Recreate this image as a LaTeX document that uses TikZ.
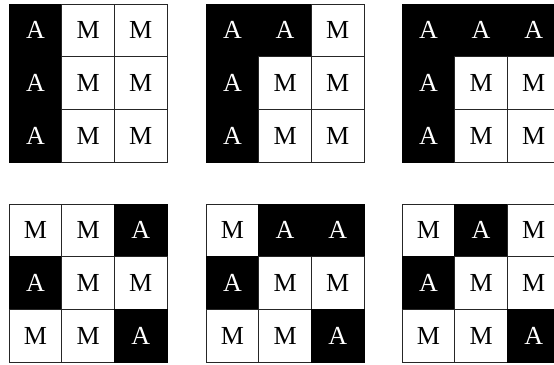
\documentclass[tikz,border=0pt]{standalone}
\usepackage{fontspec}
\setmainfont{Liberation Serif}
\usepackage{tikz}
\usetikzlibrary{positioning}

\begin{document}
\begin{tikzpicture}[
    x=1pt, y=-1pt,
    cell/.style={draw=black!85, line width=1pt, minimum size=52.7pt, inner sep=0pt, font=\fontsize{26}{26}\selectfont},
    mcell/.style={cell, fill=white, text=black},
    acell/.style={cell, draw=black, fill=black, text=white}
]
\useasboundingbox (0,0) rectangle (554,364);

% Pattern 1: left column
\node[acell] (p1-11) at (35.4,30.4) {A};
\node[mcell] (p1-12) at (88.1,30.4) {M};
\node[mcell] (p1-13) at (140.8,30.4) {M};
\node[acell] (p1-21) at (35.4,83.1) {A};
\node[mcell] (p1-22) at (88.1,83.1) {M};
\node[mcell] (p1-23) at (140.8,83.1) {M};
\node[acell] (p1-31) at (35.4,135.8) {A};
\node[mcell] (p1-32) at (88.1,135.8) {M};
\node[mcell] (p1-33) at (140.8,135.8) {M};

% Pattern 2: left column and top middle
\node[acell] (p2-11) at (232.4,30.4) {A};
\node[acell] (p2-12) at (285.1,30.4) {A};
\node[mcell] (p2-13) at (337.8,30.4) {M};
\node[acell] (p2-21) at (232.4,83.1) {A};
\node[mcell] (p2-22) at (285.1,83.1) {M};
\node[mcell] (p2-23) at (337.8,83.1) {M};
\node[acell] (p2-31) at (232.4,135.8) {A};
\node[mcell] (p2-32) at (285.1,135.8) {M};
\node[mcell] (p2-33) at (337.8,135.8) {M};

% Pattern 3: left column and top row
\node[acell] (p3-11) at (428.4,30.4) {A};
\node[acell] (p3-12) at (481.1,30.4) {A};
\node[acell] (p3-13) at (533.8,30.4) {A};
\node[acell] (p3-21) at (428.4,83.1) {A};
\node[mcell] (p3-22) at (481.1,83.1) {M};
\node[mcell] (p3-23) at (533.8,83.1) {M};
\node[acell] (p3-31) at (428.4,135.8) {A};
\node[mcell] (p3-32) at (481.1,135.8) {M};
\node[mcell] (p3-33) at (533.8,135.8) {M};

% Pattern 4: corners on the right, middle left
\node[mcell] (p4-11) at (35.4,230.4) {M};
\node[mcell] (p4-12) at (88.1,230.4) {M};
\node[acell] (p4-13) at (140.8,230.4) {A};
\node[acell] (p4-21) at (35.4,283.1) {A};
\node[mcell] (p4-22) at (88.1,283.1) {M};
\node[mcell] (p4-23) at (140.8,283.1) {M};
\node[mcell] (p4-31) at (35.4,335.8) {M};
\node[mcell] (p4-32) at (88.1,335.8) {M};
\node[acell] (p4-33) at (140.8,335.8) {A};

% Pattern 5
\node[mcell] (p5-11) at (232.4,230.4) {M};
\node[acell] (p5-12) at (285.1,230.4) {A};
\node[acell] (p5-13) at (337.8,230.4) {A};
\node[acell] (p5-21) at (232.4,283.1) {A};
\node[mcell] (p5-22) at (285.1,283.1) {M};
\node[mcell] (p5-23) at (337.8,283.1) {M};
\node[mcell] (p5-31) at (232.4,335.8) {M};
\node[mcell] (p5-32) at (285.1,335.8) {M};
\node[acell] (p5-33) at (337.8,335.8) {A};

% Pattern 6
\node[mcell] (p6-11) at (428.4,230.4) {M};
\node[acell] (p6-12) at (481.1,230.4) {A};
\node[mcell] (p6-13) at (533.8,230.4) {M};
\node[acell] (p6-21) at (428.4,283.1) {A};
\node[mcell] (p6-22) at (481.1,283.1) {M};
\node[mcell] (p6-23) at (533.8,283.1) {M};
\node[mcell] (p6-31) at (428.4,335.8) {M};
\node[mcell] (p6-32) at (481.1,335.8) {M};
\node[acell] (p6-33) at (533.8,335.8) {A};
\end{tikzpicture}
\end{document}
